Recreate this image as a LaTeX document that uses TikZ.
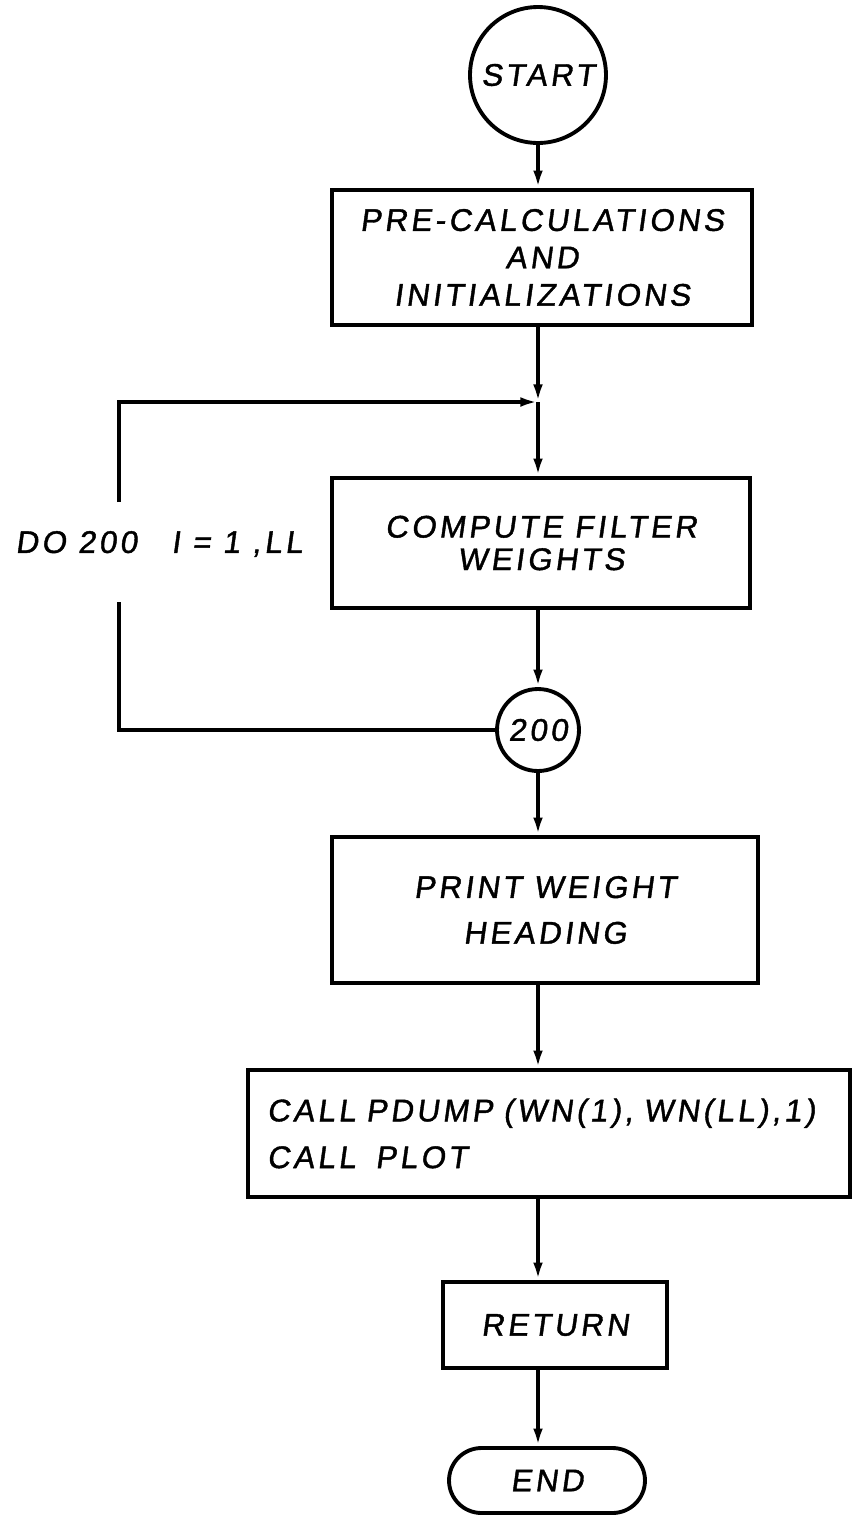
\documentclass[tikz,border=0pt]{standalone}
\usepackage{fontspec}
\usepackage{tikz}
\usetikzlibrary{positioning,arrows.meta,shapes.misc}
\newfontfamily\lettering{Liberation Sans}[FakeSlant=0.14,FakeBold=1.3,LetterSpace=11]
\tikzset{
  box/.style     = {draw, line width=2.2pt, rectangle, align=center, inner sep=0pt},
  circ/.style    = {draw, line width=2.2pt, circle, inner sep=0pt, align=center},
  stadium/.style = {draw, line width=2.2pt, rounded rectangle, inner sep=0pt, align=center},
  flow/.style    = {-{Latex[length=10pt,width=5.5pt]}, line width=2.2pt},
  link/.style    = {line width=2.2pt},
}
\newcommand{\lett}[1]{\lettering\fontsize{17.8pt}{#1}\selectfont}

\begin{document}
\begin{tikzpicture}[x=0.02cm, y=-0.02cm]
  \useasboundingbox (0,0) rectangle (852,1516);
  % main column
  \node[circ, minimum size=2.72cm, font=\lett{21pt}] (start) at (538,75) {START};
  \node[box, minimum width=8.4cm, minimum height=2.7cm, font=\lett{21.3pt}] (prep) at (542,257.5)
    {PRE-CALCULATIONS\\AND\\INITIALIZATIONS};
  \coordinate (join) at (538,402);
  \node[box, minimum width=8.36cm, minimum height=2.6cm, font=\lett{18.5pt}] (comp) at (541,543)
    {COMPUTE FILTER\\WEIGHTS};
  \node[circ, minimum size=1.64cm, font=\lett{20pt}] (c200) at (538,730) {200};
  \node[box, minimum width=8.52cm, minimum height=2.92cm, font=\lett{26pt}] (print) at (545,910)
    {PRINT WEIGHT\\HEADING};
  \node[box, minimum width=12.04cm, minimum height=2.54cm, inner xsep=0.38cm, text width=11.28cm,
    align=left, font=\lett{26.6pt}] (calls) at (549,1133.5)
    {CALL PDUMP (WN(1), WN(LL),1)\\CALL\hspace{0.3em} PLOT};
  \node[box, minimum width=4.48cm, minimum height=1.72cm, font=\lett{21pt}] (ret) at (555,1325) {RETURN};
  \node[stadium, minimum width=3.92cm, minimum height=1.3cm, font=\lett{21pt}] (fin) at (547,1480.5) {END};
  % loop
  \node[font=\lett{21pt}] (doloop) at (159,544) {DO 200\hspace{1.1em}I = 1 ,LL};
  \coordinate (loopB) at (119,602);
  \coordinate (loopT) at (119,502);
  % connectors
  \draw[flow] (start) -- (start |- prep.north);
  \draw[flow] (prep.south -| join) -- (join);
  \draw[flow] (join) -- (join |- comp.north);
  \draw[flow] (comp.south -| c200) -- (c200);
  \draw[link] (c200.west) -| (loopB);
  \draw[flow] (loopT) |- (join);
  \draw[flow] (c200) -- (c200 |- print.north);
  \draw[flow] (print.south -| c200) -- (c200 |- calls.north);
  \draw[flow] (calls.south -| c200) -- (c200 |- ret.north);
  \draw[flow] (ret.south -| c200) -- (c200 |- fin.north);
\end{tikzpicture}
\end{document}
